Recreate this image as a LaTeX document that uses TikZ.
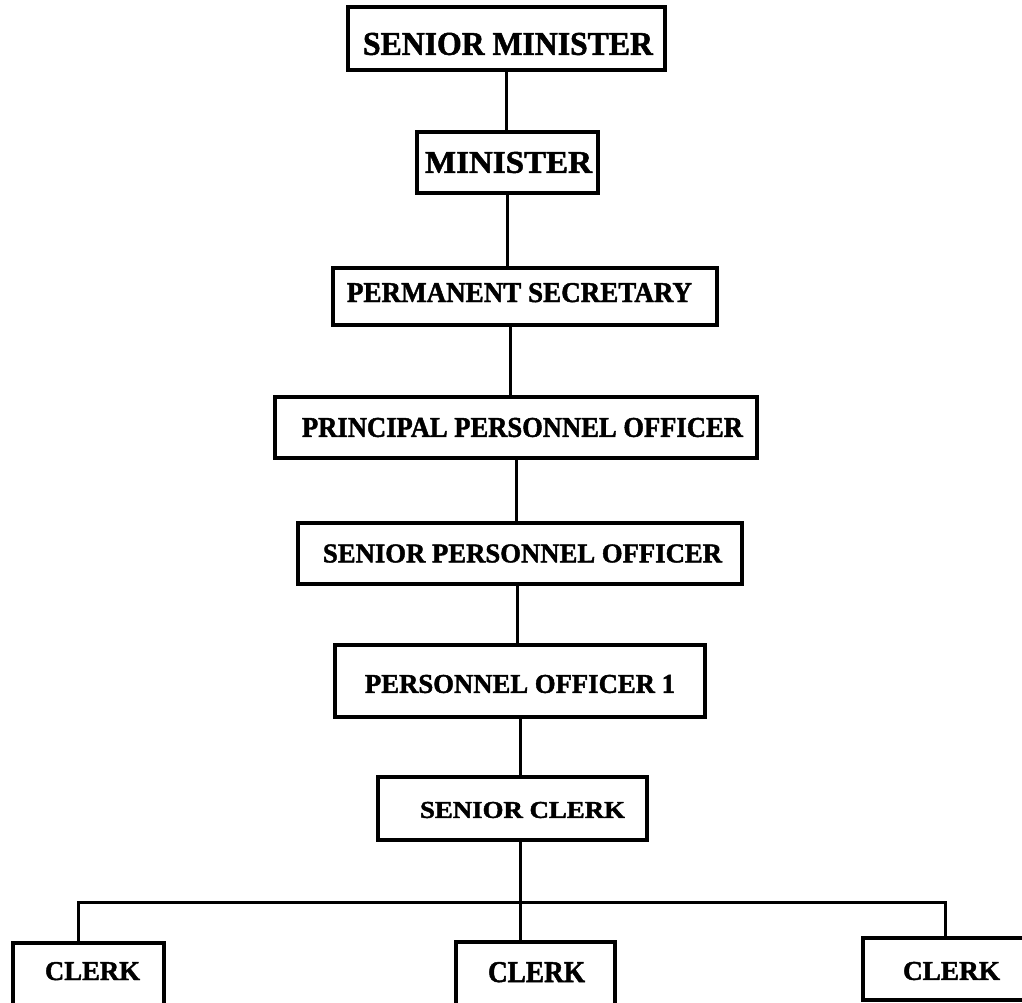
\documentclass[tikz,border=0pt]{standalone}
\usepackage{fontspec}
\setmainfont{Liberation Serif}[BoldFeatures={FakeBold=1.6}]
\usepackage{graphicx}
% bold caption squeezed to a given width and cap height (in pt)
\newcommand\boxtext[3]{\resizebox{#1pt}{#2pt}{\bfseries #3}}
\begin{document}
\begin{tikzpicture}[x=1pt,y=-1pt,
  post/.style={draw, line width=3.1pt, rectangle, inner sep=0pt, outer sep=0pt},
  wire/.style={line width=3pt}]
\useasboundingbox (0,0) rectangle (1022,1003);
\fill[white] (0,0) rectangle (1022,1003);
\clip (0,0) rectangle (1022,1003);

% chain of posts
\node[post, minimum width=317pt, minimum height=63pt] (sm) at (506.5,38.5)
  {\hspace*{3pt}\boxtext{290}{22}{SENIOR MINISTER}\rule{0pt}{33pt}};
\node[post, minimum width=181pt, minimum height=61pt] (m) at (507.5,162.5)
  {\hspace*{2pt}\boxtext{167}{21}{MINISTER}};
\node[post, minimum width=384pt, minimum height=57pt] (ps) at (525,296.5)
  {\boxtext{345}{19}{PERMANENT SECRETARY}\hspace*{11pt}\rule[-8pt]{0pt}{27pt}};
\node[post, minimum width=482pt, minimum height=61pt] (ppo) at (516,427.5)
  {\hspace*{13pt}\boxtext{441}{19}{PRINCIPAL PERSONNEL OFFICER}};
\node[post, minimum width=444pt, minimum height=61pt] (spo) at (520,553.5)
  {\hspace*{5pt}\boxtext{399}{18}{SENIOR PERSONNEL OFFICER}};
\node[post, minimum width=370pt, minimum height=72pt] (po1) at (520,681)
  {\boxtext{310}{18}{PERSONNEL OFFICER 1}\rule{0pt}{24pt}};
\node[post, minimum width=269pt, minimum height=63pt] (sc) at (512.5,808.5)
  {\hspace*{20pt}\boxtext{205}{16}{SENIOR CLERK}\rule{0pt}{19pt}};

% the three clerks
\node[post, minimum width=151pt, minimum height=70pt] (cl) at (88.5,978)
  {\hspace*{8pt}\boxtext{95}{18}{CLERK}\rule[-14pt]{0pt}{32pt}};
\node[post, minimum width=159pt, minimum height=70pt] (cm) at (535.5,977)
  {\hspace*{2pt}\boxtext{97}{20}{CLERK}\rule[-10pt]{0pt}{30pt}};
\node[post, minimum width=177pt, minimum height=62pt] (cr) at (951.5,969)
  {\boxtext{97}{18}{CLERK}\rule{0pt}{22pt}};

% vertical links
\draw[wire] (sm.south) -- (sm.south |- m.north);
\draw[wire] (m.south) -- (m.south |- ps.north);
\draw[wire] ([xshift=-15pt]ps.south) -- ([xshift=-15pt]ps.south |- ppo.north);
\draw[wire] (ppo.south) -- (ppo.south |- spo.north);
\draw[wire] ([xshift=-3pt]spo.south) -- ([xshift=-3pt]spo.south |- po1.north);
\draw[wire] (po1.south) -- (po1.south |- sc.north);
\draw[wire] ([xshift=8pt]sc.south) -- ([xshift=8pt]sc.south |- cm.north);

% branching bar to the outer clerks
\coordinate (bar) at (520,902);
\draw[wire] ([xshift=-10.5pt]cl.north) |- (bar) -| ([xshift=-6.5pt]cr.north);
\end{tikzpicture}
\end{document}
